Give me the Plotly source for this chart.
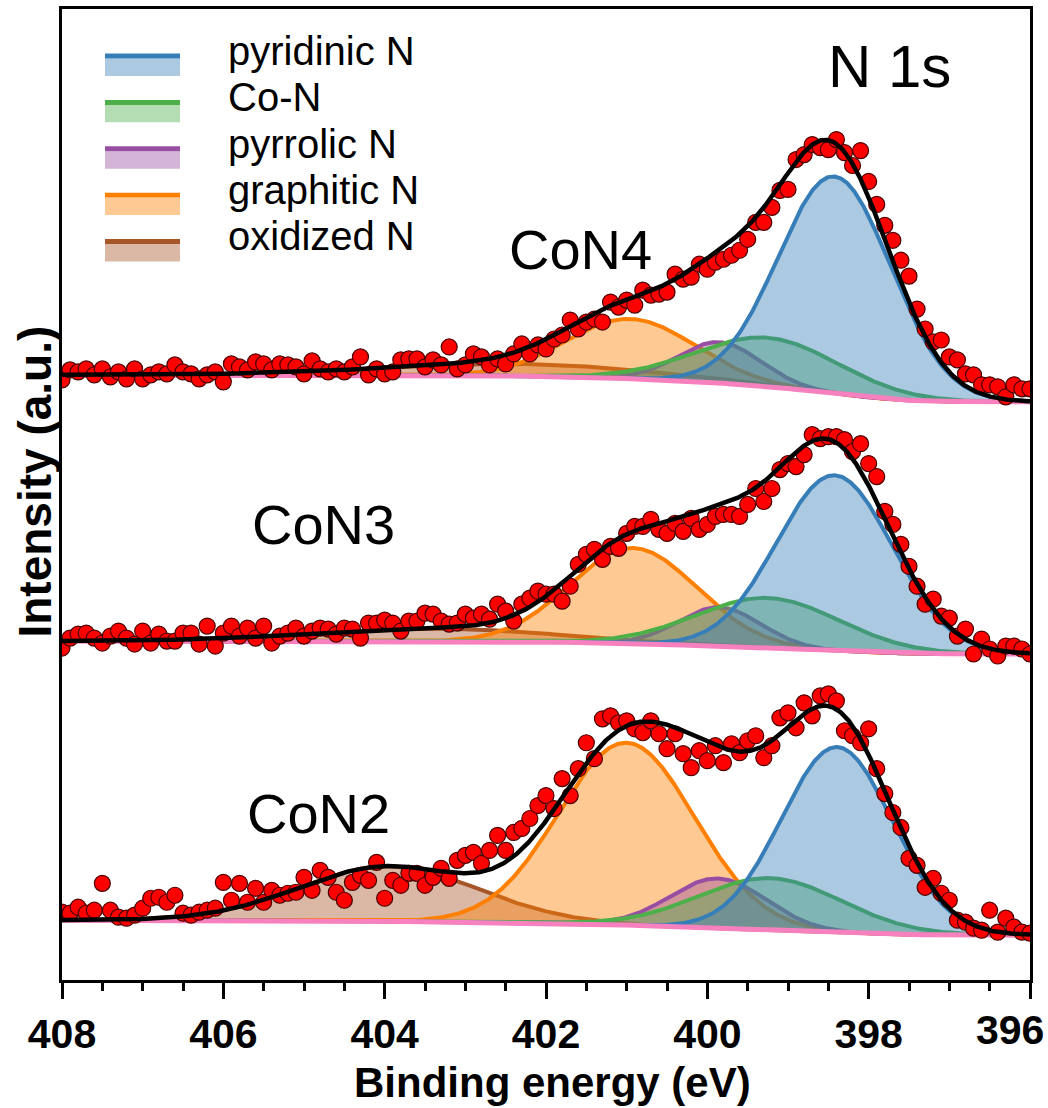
import numpy as np
import plotly.graph_objects as go

# ---------------- data ----------------
# binding-energy grid of the measured points (eV), 408.0 -> 396.0 in 0.1 eV steps
energy = np.round(np.arange(408.0, 395.95, -0.1), 1)

con4_counts = [602, 612, 610, 613, 607, 613, 605, 610, 603, 613,
               603, 607, 610, 608, 617, 610, 608, 603, 607, 610,
               600, 618, 615, 612, 620, 618, 612, 618, 617, 615,
               608, 621, 613, 610, 613, 610, 615, 625, 607, 613,
               608, 610, 622, 623, 623, 615, 622, 617, 635, 613,
               617, 628, 625, 617, 623, 618, 628, 638, 628, 637,
               633, 643, 647, 662, 653, 660, 663, 660, 680, 675,
               682, 677, 692, 687, 688, 690, 708, 703, 705, 718,
               713, 720, 723, 727, 732, 743, 760, 760, 775, 792,
               793, 823, 828, 838, 835, 833, 843, 830, 817, 832,
               801, 778, 757, 742, 722, 706, 673, 653, 640, 642,
               625, 622, 608, 607, 597, 597, 595, 585, 597, 593, 593]

con3_counts = [333, 343, 347, 348, 343, 338, 345, 350, 343, 337,
               350, 338, 347, 340, 340, 348, 348, 337, 355, 335,
               348, 355, 345, 353, 343, 355, 338, 345, 348, 353,
               345, 350, 353, 352, 347, 353, 352, 343, 358, 358,
               361, 358, 350, 360, 360, 368, 367, 360, 357, 358,
               367, 363, 367, 362, 377, 370, 360, 377, 383, 390,
               387, 387, 380, 395, 417, 427, 432, 422, 435, 433,
               448, 455, 455, 462, 452, 448, 458, 450, 463, 452,
               457, 465, 467, 467, 465, 477, 493, 480, 493, 512,
               518, 515, 527, 547, 543, 545, 545, 542, 530, 538,
               518, 505, 470, 457, 437, 415, 395, 377, 382, 365,
               363, 345, 352, 327, 342, 332, 325, 335, 335, 332, 327]

con2_counts = [68, 67, 73, 67, 70, 97, 70, 63, 62, 65,
               72, 82, 83, 78, 85, 67, 65, 68, 70, 72,
               98, 80, 97, 78, 92, 78, 90, 85, 87, 88,
               103, 90, 110, 103, 88, 80, 98, 105, 100, 118,
               82, 100, 95, 107, 107, 95, 103, 112, 102, 120,
               125, 128, 117, 130, 145, 130, 148, 152, 162, 175,
               185, 172, 202, 185, 212, 238, 222, 262, 265, 258,
               260, 252, 248, 260, 247, 232, 247, 227, 213, 230,
               220, 235, 218, 237, 228, 240, 245, 223, 235, 263,
               268, 253, 278, 265, 285, 287, 280, 250, 245, 238,
               252, 212, 187, 168, 153, 122, 115, 93, 102, 87,
               80, 60, 58, 52, 50, 70, 48, 62, 53, 48, 47]

component_names = ["pyridinic N", "Co-N", "pyrrolic N", "graphitic N", "oxidized N"]

# fitted peaks: centre (eV), height (a.u.), FWHM (eV)
con4_centers = [398.42, 399.25, 399.85, 400.95, 402.30]
con4_heights = [218, 49, 41, 60, 12]
con4_fwhm = [1.64, 2.10, 1.20, 1.87, 4.00]
con4_background = [607, 580]     # background level at 408 eV and at 396 eV

con3_centers = [398.42, 399.25, 399.85, 400.92, 403.40]
con3_heights = [176, 50, 39, 96, 13]
con3_fwhm = [1.69, 2.10, 1.20, 1.85, 3.50]
con3_background = [340, 327]

con2_centers = [398.39, 399.22, 399.87, 401.00, 403.95]
con2_heights = [186, 52, 50, 183, 55]
con2_fwhm = [1.62, 2.10, 1.40, 1.98, 2.60]
con2_background = [60, 45]

sample_labels = ["CoN4", "CoN3", "CoN2"]
tick_values = [408, 406, 404, 402, 400, 398, 396]

# ---------------- styles ----------------
line_colors = ["#377eb8", "#4daf4a", "#984ea3", "#ff7f00", "#a65628"]
fill_colors = ["rgba(55,126,184,0.42)", "rgba(77,175,74,0.42)", "rgba(152,78,163,0.42)",
               "rgba(255,127,0,0.42)", "rgba(166,86,40,0.42)"]
baseline_color = "#f781bf"
FONT = "Liberation Sans, Arial, sans-serif"

# ---------------- model curves ----------------
e_fine = np.linspace(408.0, 396.0, 1201)


def gauss(e, c, h, w):
    s = w / (2 * np.sqrt(2 * np.log(2)))
    return h * np.exp(-0.5 * ((e - c) / s) ** 2)


def build(centers, heights, fwhm, bg):
    peaks = [gauss(e_fine, c, h, w) for c, h, w in zip(centers, heights, fwhm)]
    total = np.sum(peaks, axis=0)
    # Shirley-type background: step proportional to peak area on the low-BE side
    cum = np.cumsum(total[::-1])[::-1]
    frac = cum / cum[0]
    base = bg[1] + (bg[0] - bg[1]) * frac
    return peaks, base, base + total


spectra = [
    (con4_counts, con4_centers, con4_heights, con4_fwhm, con4_background),
    (con3_counts, con3_centers, con3_heights, con3_fwhm, con3_background),
    (con2_counts, con2_centers, con2_heights, con2_fwhm, con2_background),
]

fig = go.Figure()
models = [build(c, h, w, b) for _, c, h, w, b in spectra]

# components: drawn from oxidized N up to pyridinic N, each fill followed by its line
for peaks, base, env in models:
    for k in reversed(range(len(peaks))):
        pk = peaks[k]
        fig.add_trace(go.Scatter(
            x=np.concatenate([e_fine, e_fine[::-1]]),
            y=np.concatenate([base + pk, base[::-1]]),
            fill="toself", fillcolor=fill_colors[k], mode="lines",
            line=dict(width=0), showlegend=False, hoverinfo="skip"))
        fig.add_trace(go.Scatter(x=e_fine, y=base + pk, mode="lines",
                                 line=dict(color=line_colors[k], width=4),
                                 showlegend=False, hoverinfo="skip"))
# baselines
for peaks, base, env in models:
    fig.add_trace(go.Scatter(x=e_fine, y=base, mode="lines",
                             line=dict(color=baseline_color, width=5),
                             showlegend=False, hoverinfo="skip"))
# measured points
for counts, *_ in spectra:
    fig.add_trace(go.Scatter(x=energy, y=counts, mode="markers",
                             marker=dict(size=16, color="#ff0000",
                                         line=dict(color="#4a0000", width=1.2)),
                             showlegend=False))
# envelopes
for peaks, base, env in models:
    fig.add_trace(go.Scatter(x=e_fine, y=env, mode="lines",
                             line=dict(color="black", width=4.5),
                             showlegend=False, hoverinfo="skip"))

# ---------------- layout ----------------
W, H = 1048, 1108
L, R, T, B = 62, 18, 6, 128
pw, ph = W - L - R, H - T - B


def px(x):
    return (x - L) / pw


def py(y):
    return (H - B - y) / ph


shapes = []
annotations = []
# manual legend (line on top of a shaded box)
for k, name in enumerate(component_names):
    top = 50.7 + 46.5 * k
    shapes.append(dict(type="rect", xref="paper", yref="paper",
                       x0=px(105), x1=px(180), y0=py(top + 5), y1=py(top + 22.5),
                       fillcolor=fill_colors[k], line=dict(width=0)))
    shapes.append(dict(type="rect", xref="paper", yref="paper",
                       x0=px(105), x1=px(180), y0=py(top), y1=py(top + 5),
                       fillcolor=line_colors[k], line=dict(width=0)))
    annotations.append(dict(text=name, xref="paper", yref="paper",
                            x=px(226), y=py(top - 2.5), xanchor="left", yanchor="middle",
                            showarrow=False, font=dict(family=FONT, size=40, color="black")))

label_pos = [(580, 247), (323, 523), (318, 813)]
for lab, (lx, ly) in zip(sample_labels, label_pos):
    annotations.append(dict(text=lab, xref="paper", yref="paper", x=px(lx), y=py(ly),
                            xanchor="center", yanchor="middle", showarrow=False,
                            font=dict(family=FONT, size=56, color="black")))
annotations.append(dict(text="N 1s", xref="paper", yref="paper", x=px(826), y=py(64),
                        xanchor="left", yanchor="middle", showarrow=False,
                        font=dict(family=FONT, size=60, color="black")))
annotations.append(dict(text="Binding energy (eV)", xref="paper", yref="paper",
                        x=px(552), y=py(1083), xanchor="center", yanchor="middle",
                        showarrow=False,
                        font=dict(family=FONT, size=42, color="black", weight="bold")))
annotations.append(dict(text="Intensity (a.u.)", xref="paper", yref="paper",
                        x=px(35), y=py(480), xanchor="center", yanchor="middle",
                        textangle=-90, showarrow=False,
                        font=dict(family=FONT, size=46, color="black", weight="bold")))
# last tick label sits flush with the right edge of the figure
annotations.append(dict(text=str(tick_values[-1]), xref="paper", yref="paper",
                        x=px(1046), y=py(1030), xanchor="right", yanchor="middle",
                        showarrow=False,
                        font=dict(family=FONT, size=41, color="black", weight="bold")))

fig.update_layout(
    width=W, height=H, margin=dict(l=L, r=R, t=T, b=B),
    paper_bgcolor="white", plot_bgcolor="white", showlegend=False,
    shapes=shapes, annotations=annotations,
    xaxis=dict(range=[408, 396], tickmode="array", tickvals=tick_values,
               ticktext=[str(v) for v in tick_values[:-1]] + [""],
               ticks="outside", ticklen=16, tickwidth=2.5, tickcolor="black",
               minor=dict(dtick=0.5, tick0=396, ticks="outside", ticklen=8, tickwidth=2.5,
                          tickcolor="black", showgrid=False),
               showline=True, linewidth=3, linecolor="black", mirror=True,
               showgrid=False, zeroline=False,
               tickfont=dict(family=FONT, size=41, color="black", weight="bold")),
    yaxis=dict(range=[0, ph], showticklabels=False, ticks="", showline=True, linewidth=3,
               linecolor="black", mirror=True, showgrid=False, zeroline=False),
)

fig.write_html("out.html")
